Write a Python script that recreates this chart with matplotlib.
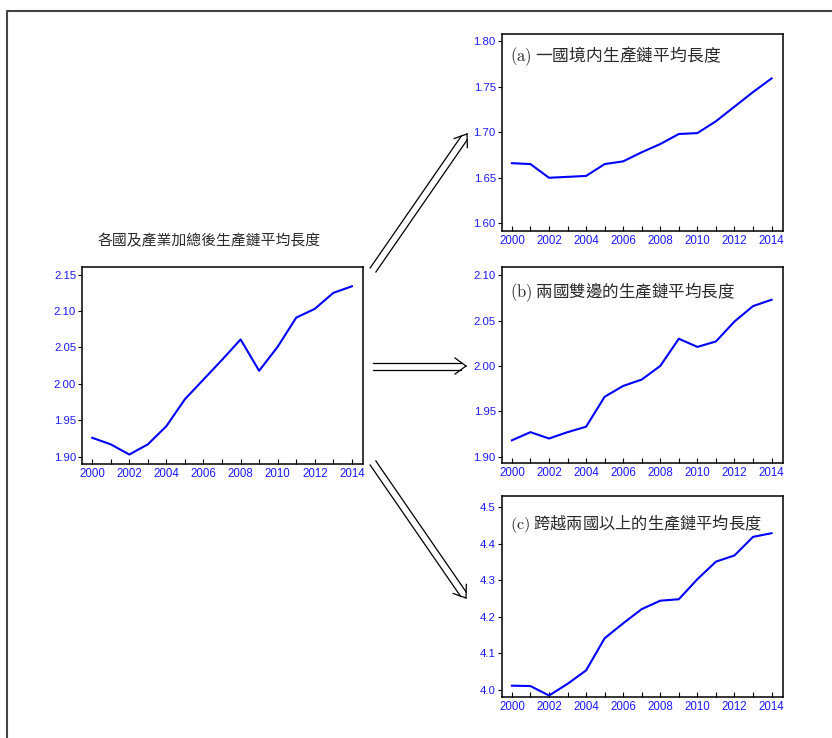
import matplotlib
matplotlib.use("Agg")
import matplotlib.pyplot as plt
from matplotlib.lines import Line2D
import numpy as np

plt.rcParams['font.family'] = ['Liberation Sans', 'Noto Sans CJK TC', 'DejaVu Sans']
plt.rcParams['mathtext.fontset'] = 'cm'

# data
years = list(range(2000, 2015))
total = [1.926, 1.917, 1.903, 1.917, 1.942, 1.979, 2.006, 2.033, 2.061,
         2.018, 2.051, 2.091, 2.103, 2.125, 2.134]
domestic = [1.666, 1.665, 1.650, 1.651, 1.652, 1.665, 1.668, 1.678, 1.687,
            1.698, 1.699, 1.712, 1.728, 1.744, 1.759]
bilateral = [1.918, 1.927, 1.920, 1.927, 1.933, 1.966, 1.978, 1.985, 2.000,
             2.030, 2.021, 2.027, 2.049, 2.066, 2.073]
multilateral = [4.011, 4.010, 3.984, 4.016, 4.053, 4.141, 4.182, 4.221, 4.244,
                4.248, 4.303, 4.351, 4.368, 4.419, 4.429]

main_title = '各國及產業加總後生產鏈平均長度'
labels = [r'$\mathrm{(a)}$ 一國境内生產鏈平均長度',
          r'$\mathrm{(b)}$ 兩國雙邊的生產鏈平均長度',
          r'$\mathrm{(c)}$ 跨越兩國以上的生產鏈平均長度']

W, H = 832, 738
fig = plt.figure(figsize=(W / 100, H / 100), dpi=100)


def px_axes(l, t, r, b):
    return fig.add_axes([l / W, 1 - b / H, (r - l) / W, (b - t) / H])


def style(ax, y, yticks, ylim, fmt):
    ax.plot(years, y, color='#0000ff', lw=1.5)
    ax.set_xlim(1999.45, 2014.6)
    ax.set_ylim(*ylim)
    ax.set_xticks(years[::2])
    ax.set_xticks(years[1::2], minor=True)
    ax.set_yticks(yticks)
    ax.set_yticklabels([fmt % v for v in yticks])
    ax.tick_params(axis='x', which='both', direction='in', length=3.5,
                   width=0.8, pad=3.2, labelsize=8.3, labelcolor='#1a1aff')
    ax.tick_params(axis='y', direction='out', length=3, width=0.8, pad=1.3,
                   labelsize=8.2, labelcolor='#1a1aff')
    for s in ax.spines.values():
        s.set_linewidth(1.1)


ax0 = px_axes(82, 267, 363, 464)
style(ax0, total, np.arange(1.90, 2.151, 0.05), (1.890, 2.1605), '%.2f')
ax0.text(0.452, 1.132, main_title, transform=ax0.transAxes, ha='center',
         va='center', fontsize=10.7, color='#2a2a2a',
         family=['Noto Sans CJK TC', 'DejaVu Sans'])

axa = px_axes(501.7, 34, 782.7, 231)
style(axa, domestic, np.arange(1.60, 1.801, 0.05), (1.5916, 1.8077), '%.2f')
axb = px_axes(501.7, 267, 782.7, 463)
style(axb, bilateral, np.arange(1.90, 2.101, 0.05), (1.893, 2.1091), '%.2f')
axc = px_axes(501.7, 496, 782.7, 697)
style(axc, multilateral, np.arange(4.0, 4.51, 0.1), (3.980, 4.531), '%.1f')

for ax, lab, yy, fs in zip([axa, axb, axc], labels, [0.885, 0.873, 0.864],
                           [12.1, 11.9, 11.7]):
    ax.text(0.03, yy, lab, transform=ax.transAxes, ha='left', va='center',
            fontsize=fs, color='#2a2a2a',
            family=['Noto Sans CJK TC', 'DejaVu Sans'])


def double_arrow(x0, y0, x1, y1, gap=3.5, hl=11, hw=8):
    # hollow double-line arrow drawn in figure pixels
    d = np.array([x1 - x0, y1 - y0], float)
    L = np.hypot(*d)
    u = d / L
    n = np.array([-u[1], u[0]])
    p0 = np.array([x0, y0], float)
    tip = np.array([x1, y1], float)
    end = tip - u * (hl * gap / hw)
    for s in (1, -1):
        a = p0 + s * gap * n
        b = end + s * gap * n
        fig.add_artist(Line2D([a[0] / W, b[0] / W], [1 - a[1] / H, 1 - b[1] / H],
                              color='black', lw=0.9))
        c = tip - u * hl + s * hw * n
        fig.add_artist(Line2D([c[0] / W, tip[0] / W], [1 - c[1] / H, 1 - tip[1] / H],
                              color='black', lw=0.9))


double_arrow(373, 270, 467, 134)
double_arrow(373, 366, 466, 366)
double_arrow(373, 463, 466, 598)

# outer frame (top and left only)
fig.add_artist(Line2D([6.5 / W, 6.5 / W, 1.0], [0.0, 1 - 10.5 / H, 1 - 10.5 / H],
                      color='#444444', lw=1.5))

fig.savefig('out.png', dpi=100)
